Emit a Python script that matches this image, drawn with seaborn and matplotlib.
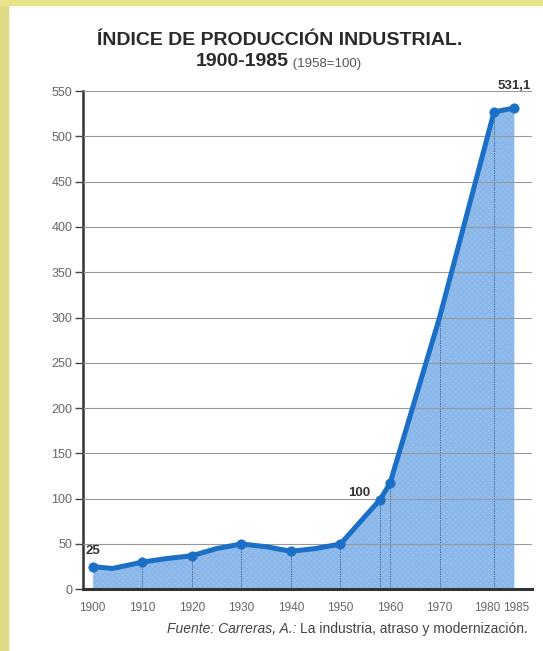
import matplotlib
matplotlib.use("Agg")
import matplotlib.pyplot as plt
import matplotlib.transforms as mtransforms
import numpy as np
import pandas as pd
import seaborn as sns
from matplotlib.patches import Rectangle

# Data (index, 1958 = 100)
years = [1900, 1904, 1910, 1915, 1920, 1925, 1930, 1935, 1940, 1945, 1950,
         1958, 1960, 1970, 1981, 1985]
values = [25, 23, 30, 34, 37, 45, 50, 47, 42, 45, 50,
          99, 117, 300, 527, 531.1]
marker_years = [1900, 1910, 1920, 1930, 1940, 1950, 1958, 1960, 1981, 1985]
drop_years = [1910, 1920, 1930, 1940, 1950, 1958, 1960, 1970, 1981]
xtick_labels = [1900, 1910, 1920, 1930, 1940, 1950, 1960, 1970, 1980, 1985]
yticks = list(range(0, 551, 50))
point_labels = {1900: "25", 1958: "100", 1985: "531,1"}

df = pd.DataFrame({"year": years, "value": values})
df_mk = df[df["year"].isin(marker_years)]

sns.set_style("white")
plt.rcParams["font.family"] = ["Liberation Sans", "DejaVu Sans"]

line_col = "#1c6fc6"
fill_col = "#92bef0"

fig = plt.figure(figsize=(5.43, 6.51), dpi=100)
fig.patch.set_facecolor("white")
# yellow page border
fig.add_artist(Rectangle((0, 0), 8 / 543, 1, transform=fig.transFigure,
                         color="#dedb86", zorder=0))
fig.add_artist(Rectangle((0, 1 - 5 / 651), 1, 5 / 651, transform=fig.transFigure,
                         color="#e8e48c", zorder=0))

ax = fig.add_axes([83.3 / 543, 1 - 589.3 / 651, (531.7 - 83.3) / 543, (589.3 - 91) / 651])
ax.set_facecolor("none")

# area under curve
ax.fill_between(df["year"], 0, df["value"], color=fill_col, lw=0, zorder=1)
ax.fill_between(df["year"], 0, df["value"], facecolor="none", edgecolor="#7aa6d8",
                hatch="xxxxxx", lw=0, zorder=1.1, alpha=0.35)

# drop lines from the curve to the axis
drop_h = np.interp(drop_years, years, values)
ax.vlines(drop_years, 0, drop_h, colors="#4a6f9e", linestyles=(0, (1.5, 1)),
          lw=0.7, zorder=1.5)

sns.lineplot(data=df, x="year", y="value", ax=ax, color=line_col, lw=3.6,
             zorder=4, solid_capstyle="round", solid_joinstyle="round")
sns.scatterplot(data=df_mk, x="year", y="value", ax=ax, color=line_col, s=45,
                edgecolor=line_col, zorder=5)

ax.set_xlim(1898.1, 1988.6)
ax.set_ylim(0, 550)
ax.set_yticks(yticks)
ax.set_xticks(xtick_labels)
ax.set_xlabel("")
ax.set_ylabel("")

ax.grid(axis="y", color="#999999", lw=0.8)
ax.grid(axis="x", visible=False)
ax.set_axisbelow(False)
for g in ax.get_ygridlines():
    g.set_zorder(2)

for s in ["top", "right"]:
    ax.spines[s].set_visible(False)
ax.spines["left"].set_color("#333333")
ax.spines["left"].set_linewidth(1.8)
ax.spines["bottom"].set_color("#333333")
ax.spines["bottom"].set_linewidth(2.2)
ax.spines["bottom"].set_zorder(6)

ax.tick_params(axis="y", length=6, width=1, color="#444444", labelsize=9,
               labelcolor="#666666", pad=2, left=True)
ax.tick_params(axis="x", length=0, labelsize=8.5, labelcolor="#666666", pad=9)

# 1980 and 1985 sit close together: nudge them apart a little
xlabels = ax.get_xticklabels()
for lbl, dx in [(xlabels[-2], -2), (xlabels[-1], 2)]:
    lbl.set_transform(lbl.get_transform() +
                      mtransforms.ScaledTranslation(dx / 100, 0, fig.dpi_scale_trans))

# value labels
offsets = {1900: (0, 11), 1958: (-15, 5), 1985: (0, 16)}
for yr, txt in point_labels.items():
    v = df.loc[df["year"] == yr, "value"].iloc[0]
    ax.annotate(txt, (yr, v), xytext=offsets[yr], textcoords="offset points",
                ha="center", va="center", fontsize=9.5, fontweight="bold",
                color="#333333", zorder=7)

# title
fig.text(280 / 543, 1 - 45 / 651, "ÍNDICE DE PRODUCCIÓN INDUSTRIAL.",
         ha="center", va="baseline", fontsize=14, fontweight="bold", color="#2a2a2a")
t1 = fig.text(289 / 543, 1 - 66 / 651, "1900-1985", ha="right", va="baseline",
              fontsize=14, fontweight="bold", color="#2a2a2a")
ax.annotate(" (1958=100)", xy=(1, 0), xycoords=t1, ha="left", va="bottom",
            fontsize=9.5, color="#555555")

# source
src = fig.text(528 / 543, 1 - 633 / 651, "La industria, atraso y modernización.",
               ha="right", va="baseline", fontsize=10, color="#444444")
ax.annotate("Fuente: Carreras, A.: ", xy=(0, 0), xycoords=src, ha="right",
            va="bottom", fontsize=10, style="italic", color="#444444")

fig.savefig("out.png", dpi=100)
